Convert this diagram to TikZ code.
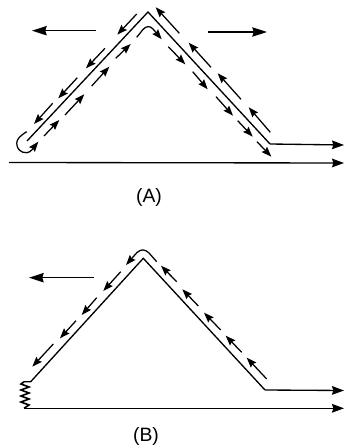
\documentclass[tikz,border=0pt]{standalone}
\usepackage{fontspec}
\setmainfont{Liberation Sans}
\usetikzlibrary{arrows.meta}
\tikzset{
  wire/.style={line width=1pt,line join=miter},
  wirearrow/.style={wire,-{Stealth[length=9pt,width=6.5pt,inset=1pt]}},
  flow/.style={line width=0.95pt,-{Stealth[length=7.5pt,width=5.5pt,inset=1pt]}},
  motion/.style={line width=1pt,-{Stealth[length=11pt,width=7pt,inset=1pt]}},
  caption/.style={font=\fontsize{14.5pt}{16pt}\selectfont,inner sep=0pt}
}
\begin{document}
\begin{tikzpicture}[x=0.75pt,y=-0.75pt]
\useasboundingbox (0,0) rectangle (344,448);
% --- (A) ---
\coordinate (aL) at (27,141);
\coordinate (aT) at (148,12);
\coordinate (aR) at (270,144);
\coordinate (aE) at (344,145);
\coordinate (aS) at (9,162.5);
\coordinate (aF) at (344,163);
\draw[wire] (aL) -- (aT) -- (aR);
\draw[wirearrow] (aR) -- (aE);
\draw[wirearrow] (aS) -- (aF);
\draw[motion] (96,30.7) -- (32,30.7);
\draw[motion] (208,32) -- (267,32);
% outer left
\draw[flow] (136.7,14) -- (117.3,34.7);
\draw[flow] (105,48.3) -- (86,68.3);
\draw[flow] (77.3,77.7) -- (58.3,98.3);
\draw[flow] (52.7,103.3) -- (34,124);
% U-turn
\draw[flow] (26.7,131.7) .. controls (20,136) and (16.7,139) .. (16.7,143.5)
   .. controls (16.7,149) and (21,153) .. (26.7,152.7)
   .. controls (31,152.5) and (34,147) .. (38.3,141.7);
% inner up
\draw[flow] (44,136) -- (59.3,120);
\draw[flow] (65,115) -- (84.3,94.3);
\draw[flow] (91.7,86) -- (109.3,66.7);
\draw[flow] (115.7,58.3) -- (130.7,44);
\draw[flow] (136.7,37.3) -- (143,29.5) .. controls (146,26) and (150,25.5) .. (153,29) -- (161.7,39.3);
% inner down right
\draw[flow] (168.3,46.7) -- (185.3,64.3);
\draw[flow] (192.7,71.7) -- (207.7,89.3);
\draw[flow] (216,96.7) -- (233,115.7);
\draw[flow] (237.7,120.7) -- (252.7,136.7);
\draw[flow] (257,141.7) -- (271.3,156.7);
% outer right
\draw[flow] (179.3,33.3) -- (155.7,7.3);
\draw[flow] (211,67.3) -- (188.7,42.7);
\draw[flow] (241,99.3) -- (217.7,73.3);
\draw[flow] (270.3,132.3) -- (248.7,107.3);
\node[caption] (capA) at (149,197) {(A)};
% --- (B) ---
\coordinate (bL) at (30.7,381.7);
\coordinate (bT) at (143.3,258.3);
\coordinate (bR) at (265,390);
\coordinate (bE) at (344,390.5);
\coordinate (bS) at (24,408.3);
\coordinate (bF) at (344,408.3);
\coordinate (bC) at (24,381.7);
\draw[wire] (bC) -- (bL) -- (bT) -- (bR);
\draw[wirearrow] (bR) -- (bE);
\draw[wirearrow] (bS) -- (bF);
\draw[wire,line width=1.2pt] (bC) -- (21,384) -- (29,387) -- (21,390) -- (29,393) -- (21,396) -- (29,399) -- (21,402) -- (29,405) -- (bS);
\draw[motion] (94,277.7) -- (29,277.7);
\draw[flow] (156.7,261.7) -- (149,253) .. controls (145,249) and (141,249) .. (137,252.5) -- (126,265);
\draw[flow] (120.7,271.7) -- (103.3,291);
\draw[flow] (96.7,297.7) -- (81.7,315);
\draw[flow] (76,320.7) -- (60,338.3);
\draw[flow] (53.3,344) -- (32.3,366.7);
\draw[flow] (266.7,379) -- (246.7,357.7);
\draw[flow] (241.7,352.3) -- (225.7,335.7);
\draw[flow] (220.7,330) -- (204,312.7);
\draw[flow] (198.3,306) -- (182.3,289.3);
\draw[flow] (176.7,281.7) -- (161,265.7);
\node[caption] (capB) at (146,436) {(B)};
\end{tikzpicture}
\end{document}
